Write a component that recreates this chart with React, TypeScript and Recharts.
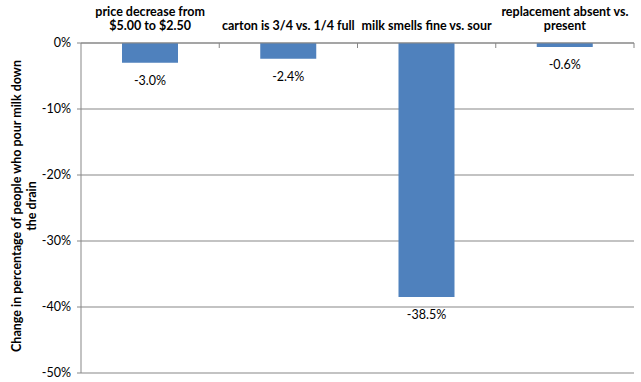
import React from "react";
import { BarChart, Bar, XAxis, YAxis, CartesianGrid, LabelList, Label } from "recharts";

const categories = [
  "price decrease from\n$5.00 to $2.50",
  "carton is 3/4 vs. 1/4 full",
  "milk smells fine vs. sour",
  "replacement absent vs.\npresent",
];
const changes = [-3.0, -2.4, -38.5, -0.6];
const yTicks = [0, -10, -20, -30, -40, -50];
const yLabelLines = ["Change in percentage of people who pour milk down", "the drain"];

const data = categories.map((c, i) => ({ category: c, change: changes[i] }));

const FONT = "Lato, 'Open Sans', sans-serif";
const GRID = "#878787";

const CategoryTick = (props: any) => {
  const { x, y, payload } = props;
  const lines: string[] = String(payload.value).split("\n");
  const off = payload.offset || 0;
  const base = y; // axis line y
  return (
    <g>
      <line x1={x + off} x2={x + off} y1={base} y2={base + 5} stroke={GRID} strokeWidth={1} />
      {lines.map((l, i) => (
        <text
          key={i}
          x={x}
          y={base - 13 - (lines.length - 1 - i) * 14.5}
          textAnchor="middle"
          fontFamily={FONT}
          fontWeight="bold"
          fontSize={12.5}
          fill="#000"
        >
          {l}
        </text>
      ))}
    </g>
  );
};

const ValueLabel = (props: any) => {
  const { x, y, width, height, value } = props;
  const bottom = Math.max(y, y + height);
  return (
    <text
      x={x + width / 2}
      y={bottom + 22}
      textAnchor="middle"
      fontFamily={FONT}
      fontSize={12.5}
      fill="#000"
    >
      {`${Number(value).toFixed(1)}%`}
    </text>
  );
};

const YTitle = (props: any) => {
  const vb = props.viewBox || {};
  const cy = vb.y + vb.height / 2 - 2;
  return (
    <g>
      {yLabelLines.map((l, i) => {
        const cx = 16 + i * 15;
        return (
          <text
            key={i}
            x={cx}
            y={cy}
            transform={`rotate(-90, ${cx}, ${cy})`}
            textAnchor="middle"
            dominantBaseline="central"
            fontFamily={FONT}
            fontWeight="bold"
            fontSize={12.5}
            fill="#000"
          >
            {l}
          </text>
        );
      })}
    </g>
  );
};

export default function App() {
  return (
    <div style={{ position: "absolute", left: 0, top: 0, width: 641, height: 382, background: "#fff" }}>
      <BarChart
        width={641}
        height={382}
        data={data}
        margin={{ top: 0, right: 7, bottom: 9, left: 0 }}
      >
        <CartesianGrid vertical={false} stroke={GRID} strokeWidth={1} />
        <XAxis
          dataKey="category"
          orientation="top"
          height={43}
          axisLine={{ stroke: GRID }}
          tickLine={false}
          tickSize={0}
          tickMargin={0}
          tick={<CategoryTick />}
          interval={0}
        />
        <YAxis
          domain={[-50, 0]}
          ticks={yTicks}
          width={81}
          axisLine={{ stroke: GRID }}
          tickLine={{ stroke: GRID }}
          tickSize={4}
          tickMargin={6}
          tickFormatter={(v: number) => `${v}%`}
          tick={{ fontFamily: FONT, fontSize: 12.5, fill: "#000" }}
          interval={0}
        >
          <Label content={<YTitle />} />
        </YAxis>
        <Bar dataKey="change" fill="#4F81BD" barSize={56} isAnimationActive={false}>
          <LabelList dataKey="change" content={<ValueLabel />} />
        </Bar>
      </BarChart>
    </div>
  );
}
